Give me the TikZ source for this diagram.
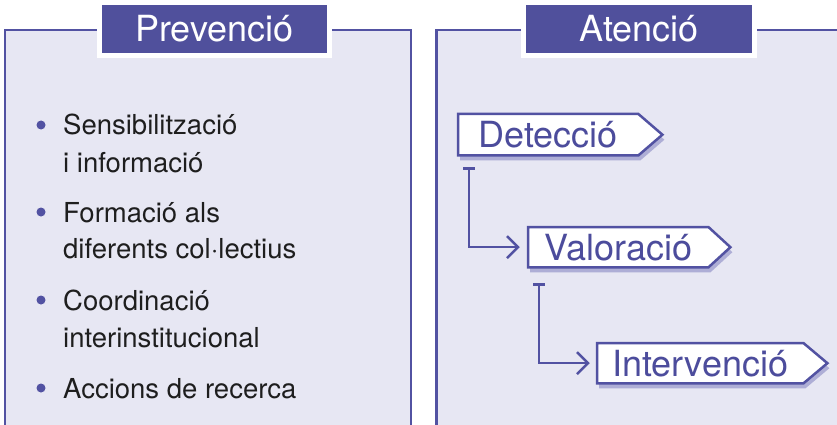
\documentclass[tikz,border=0pt]{standalone}
\usepackage{fontspec}
\setmainfont{TeX Gyre Heros}
\usetikzlibrary{arrows.meta}
\definecolor{panelfill}{HTML}{E7E7F3}
\definecolor{pline}{HTML}{5252A2}
\definecolor{tfill}{HTML}{50509C}
\definecolor{shadowc}{HTML}{AEAED6}
\definecolor{ltext}{HTML}{4C4C9C}
\definecolor{btext}{HTML}{1E1E1E}
\pgfdeclarelayer{bg}
\pgfdeclarelayer{mid}
\pgfsetlayers{bg,mid,main}
\newcommand\sigpath[2]{(#1.north west) -- (#1.north east) -- ([xshift=#2]#1.east) -- (#1.south east) -- (#1.south west) -- cycle}
\begin{document}
\begin{tikzpicture}[x=1pt,y=-1pt,
  panelbg/.style={fill=panelfill},
  panelline/.style={draw=pline,line width=2.5pt},
  titlebox/.style={fill=tfill,draw=white,line width=5pt,text=white,font=\fontsize{36}{40}\selectfont,minimum width=230pt,minimum height=53pt,text height=25.8pt,text depth=0pt,inner sep=0pt},
  lbox/.style={font=\fontsize{36}{40}\selectfont,text=ltext,text height=25.8pt,text depth=0pt,inner sep=0pt,anchor=north west},
  item/.style={font=\fontsize{27.5}{37}\selectfont,text=btext,anchor=base west,inner sep=0pt},
  dot/.style={circle,fill=pline,minimum size=9pt,inner sep=0pt},
  conn/.style={draw=pline,line width=2.5pt,line cap=butt},
  chev/.style={draw=pline,line width=2.5pt,line join=miter},
  outline/.style={draw=pline,line width=2.5pt,fill=white,line join=miter},
  shadowfill/.style={fill=shadowc,transform canvas={xshift=2pt,yshift=-5pt}}
]
\useasboundingbox (0,0) rectangle (837,425);
\clip (0,0) rectangle (837,425);

% panels
\begin{pgfonlayer}{bg}
\fill[panelbg] (5,30) rectangle (411,440);
\fill[panelbg] (436.5,30) rectangle (845,440);
\draw[panelline] (5,440) -- (5,30) -- (411,30) -- (411,440);
\draw[panelline] (436.5,440) -- (436.5,30) -- (845,30);
\end{pgfonlayer}

% titles
\node[titlebox] (tprev) at (214.5,29) {Prevenció};
\node[titlebox,minimum width=231pt] (taten) at (639,29) {Atenció};

% bullet list
\node[dot] (d1) at (41,125) {};
\node[item] (i1a) at (63,135) {Sensibilització};
\node[item] (i1b) at (63,172) {i informació};
\node[dot] (d2) at (41,212) {};
\node[item] (i2a) at (63,222) {Formació als};
\node[item] (i2b) at (63,258) {diferents col·lectius};
\node[dot] (d3) at (41,300) {};
\node[item] (i3a) at (63,310) {Coordinació};
\node[item] (i3b) at (63,347) {interinstitucional};
\node[dot] (d4) at (41,388) {};
\node[item] (i4a) at (63,398) {Accions de recerca};

% process boxes
\node[lbox,minimum width=180pt,minimum height=41pt] (det) at (458,114) {Detecció};
\node[lbox,minimum width=180pt,minimum height=40pt] (val) at (528,227) {Valoració};
\node[lbox,minimum width=206pt,minimum height=40pt] (int) at (597,343) {Intervenció};

\begin{pgfonlayer}{mid}
\fill[shadowfill] \sigpath{det}{24pt};
\fill[shadowfill] \sigpath{val}{22pt};
\fill[shadowfill] \sigpath{int}{24pt};
\path[outline] \sigpath{det}{24pt};
\path[outline] \sigpath{val}{22pt};
\path[outline] \sigpath{int}{24pt};
\end{pgfonlayer}

% connectors
\coordinate (s1) at ([shift={(11,13)}]det.south west);
\coordinate (e1) at ([xshift=-10pt]val.west);
\coordinate (s2) at ([shift={(11,17)}]val.south west);
\coordinate (e2) at ([xshift=-9pt]int.west);
\draw[conn] ([xshift=-6pt]s1) -- ([xshift=6pt]s1);
\draw[conn] (s1) |- ([xshift=-1pt]e1);
\draw[chev] ([shift={(-11,-11)}]e1) -- (e1) -- ([shift={(-11,11)}]e1);
\draw[conn] ([xshift=-6pt]s2) -- ([xshift=6pt]s2);
\draw[conn] (s2) |- ([xshift=-1pt]e2);
\draw[chev] ([shift={(-11,-11)}]e2) -- (e2) -- ([shift={(-11,11)}]e2);
\end{tikzpicture}
\end{document}
